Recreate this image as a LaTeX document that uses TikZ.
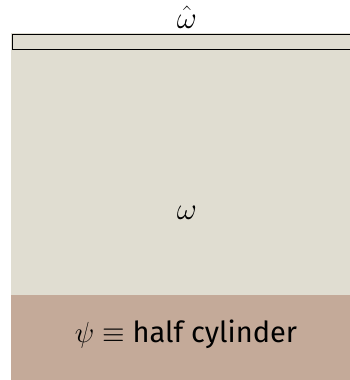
\RequirePackage{fix-cm}
\documentclass[tikz,border=0pt]{standalone}
\usepackage{fontspec}
\setmainfont{Fira Sans}
\definecolor{domaingray}{HTML}{E0DDD1}
\definecolor{basebrown}{HTML}{C4AA99}
\tikzset{
  lbl/.style={inner sep=0pt, text=black},
  greek/.style={lbl, font=\fontsize{31}{34}\selectfont, anchor=base},
}
\begin{document}
\begin{tikzpicture}[x=1pt,y=-1pt]
\useasboundingbox (0,0) rectangle (350,380);
\fill[domaingray] (11,33) rectangle (350,295);
\fill[basebrown] (11,295) rectangle (350,380);
\begin{scope}
\clip (0,0) rectangle (350,380);
\draw[line width=1.6pt, fill=domaingray] (12.5,34.5) rectangle (400,49.5);
\end{scope}
\node[greek] (what) at (187,28) {$\hat\omega$};
\node[greek] (w) at (187,219) {$\omega$};
\node[lbl, font=\fontsize{29}{32}\selectfont, anchor=base] (psi) at (186,342) {$\psi \equiv$ half cylinder};
\end{tikzpicture}
\end{document}
